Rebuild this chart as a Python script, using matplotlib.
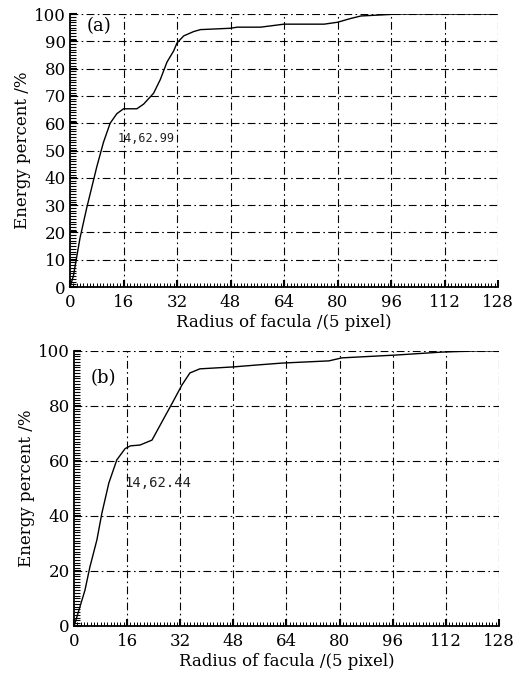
import matplotlib
matplotlib.use("Agg")
import matplotlib.pyplot as plt
from matplotlib.ticker import MultipleLocator

# data
radius_a = [0, 1, 3, 5, 8, 10, 12, 14, 16, 20, 22, 25, 27, 29, 31, 32, 34, 37, 39, 48, 50, 57, 64, 76, 80, 84, 87, 98, 128]
energy_a = [0, 4, 18, 29, 44, 53, 60, 63.5, 65.3, 65.3, 67, 71, 76, 82.4, 86.5, 89.4, 92, 93.6, 94.3, 94.8, 95.2, 95.2, 96.3, 96.3, 97, 98.4, 99.3, 100, 100]

radius_b = [0, 0.3, 1.8, 3.3, 4.8, 6.9, 8.4, 10.5, 12.9, 15.4, 17, 19.9, 23.5, 26.8, 29.8, 32.5, 34.9, 37.9, 47.9, 55.1, 62.6, 76.8, 80.7, 96.7, 110.8, 120.8, 128]
energy_b = [0, 1, 7, 13, 21.5, 31.3, 41, 52, 60.4, 64.5, 65.5, 65.8, 67.6, 74.9, 81.5, 87.6, 92, 93.5, 94.2, 94.9, 95.6, 96.4, 97.5, 98.5, 99.6, 100, 100]

x_ticks = list(range(0, 129, 16))
y_ticks_a = list(range(0, 101, 10))
y_ticks_b = list(range(0, 101, 20))

serif = "DejaVu Serif"
grid_dash = (0, (7, 3, 1.5, 3))

fig = plt.figure(figsize=(5.24, 6.76), dpi=100)
ax1 = fig.add_axes([0.1336, 0.5754, 0.8168, 0.4038])
ax2 = fig.add_axes([0.1412, 0.0740, 0.8110, 0.4068])

panels = [
    (ax1, radius_a, energy_a, y_ticks_a, "(a)", 95.5, "14,62.99", 14.3, 54.5, 8.5),
    (ax2, radius_b, energy_b, y_ticks_b, "(b)", 90, "14,62.44", 15.2, 52, 10),
]

for ax, xs, ys, yt, tag, tag_y, note, nx, ny, nsize in panels:
    ax.plot(xs, ys, color="black", linewidth=1.0)
    ax.set_xlim(0, 128)
    ax.set_ylim(0, 100)
    ax.set_xticks(x_ticks)
    ax.set_yticks(yt)
    ax.xaxis.set_minor_locator(MultipleLocator(1))
    ax.yaxis.set_minor_locator(MultipleLocator(1))
    ax.tick_params(which="major", direction="in", length=5, width=1.5,
                   labelsize=12)
    ax.tick_params(axis="x", which="major", pad=5)
    ax.tick_params(axis="y", which="major", pad=3)
    ax.tick_params(axis="x", which="minor", direction="in", length=3, width=0.7)
    ax.tick_params(axis="y", which="minor", direction="in", length=4, width=0.8)
    for lab in ax.get_xticklabels() + ax.get_yticklabels():
        lab.set_fontfamily(serif)
    # dash-dot grid, top/right edges drawn as grid too
    for gx in x_ticks[1:]:
        ax.axvline(gx, color="black", linewidth=0.8, linestyle=grid_dash)
    for gy in yt[1:]:
        ax.axhline(gy, color="black", linewidth=0.8, linestyle=grid_dash)
    ax.spines["top"].set_visible(False)
    ax.spines["right"].set_visible(False)
    ax.spines["left"].set_linewidth(1.3)
    ax.spines["bottom"].set_linewidth(1.3)
    ax.set_xlabel("Radius of facula /(5 pixel)", fontsize=12, family=serif, labelpad=2)
    ax.set_ylabel("Energy percent /%", fontsize=12, family=serif, labelpad=2)
    ax.text(5, tag_y, tag, fontsize=13, family=serif, va="center", ha="left")
    ax.text(nx, ny, note, fontsize=nsize, family="DejaVu Sans Mono",
            va="center", ha="left", color="#222222")

fig.savefig("out.png", dpi=100)
